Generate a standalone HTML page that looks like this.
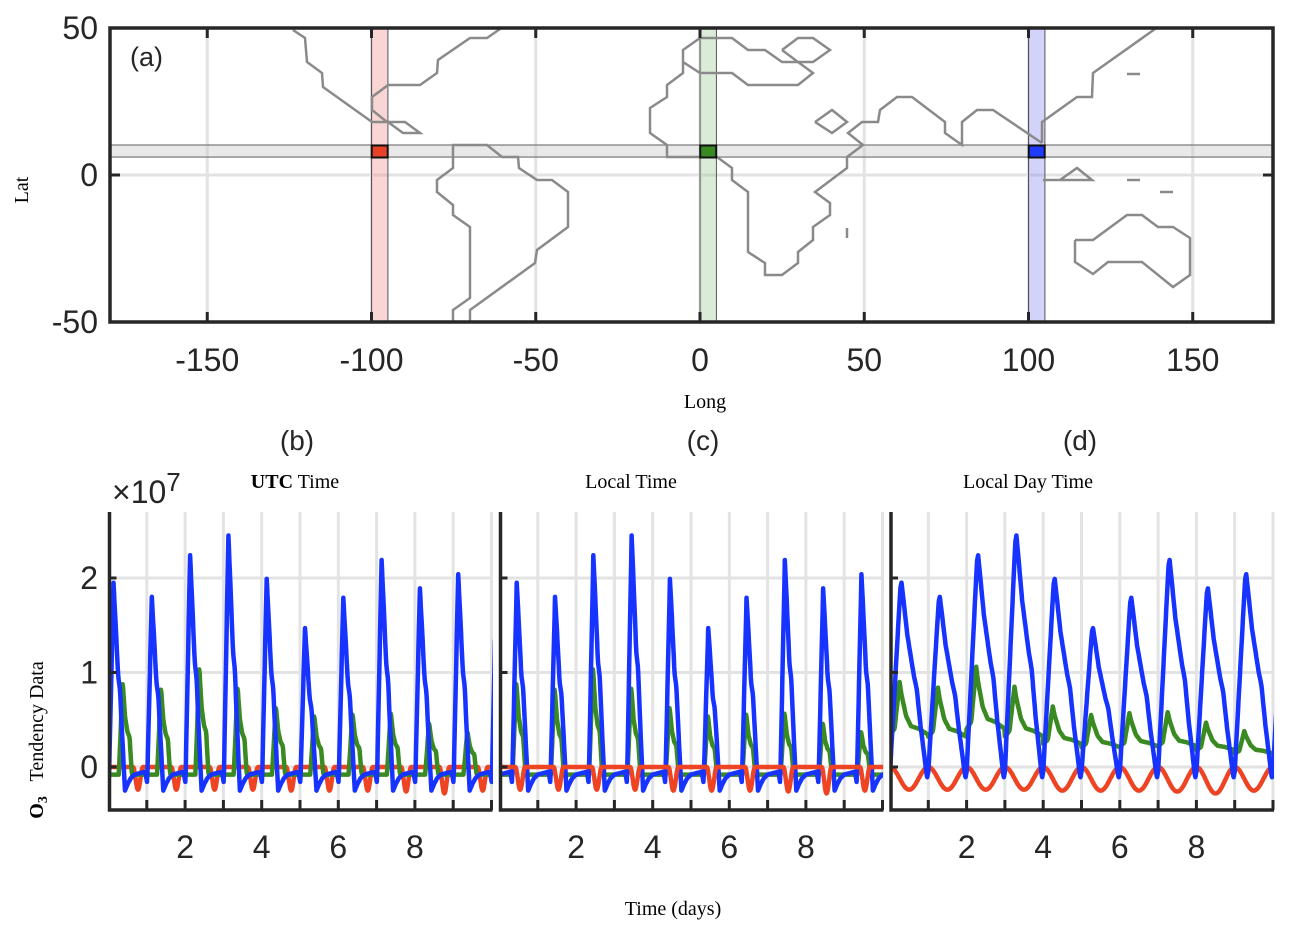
<!DOCTYPE html>
<html><head><meta charset="utf-8"><style>
html,body{margin:0;padding:0;background:#fff;}
svg{display:block;}
text{font-family:"Liberation Sans",Arial,sans-serif;fill:#262626;}
.serif{font-family:"Liberation Serif","Times New Roman",serif;fill:#000;}
</style></head><body>
<svg id="fig" width="1289" height="935" viewBox="0 0 1289 935" xmlns="http://www.w3.org/2000/svg">
<defs>
<clipPath id="clipA"><rect x="110" y="28" width="1163" height="294"/></clipPath>
<clipPath id="clipB"><rect x="110" y="512" width="383" height="298"/></clipPath>
<clipPath id="clipC"><rect x="500" y="512" width="383" height="298"/></clipPath>
<clipPath id="clipD"><rect x="891" y="512" width="383" height="298"/></clipPath>
</defs>
<g id="panelA"></g>
<g id="panels"></g>
</svg>
<script>
// ---- data ----
const lonTicks = [-150,-100,-50,0,50,100,150];
const latTicks = [-50,0,50];
const siteLons = [-97.5, 2.5, 102.5];
const siteLat = 8;
const siteColors = ['#e8432a','#3a8a22','#1f3bff'];
const bandColors = ['rgba(240,150,150,0.4)','rgba(150,200,140,0.35)','rgba(140,140,240,0.38)'];
const dayTicks = [2,4,6,8];
const yTicks = [0,1,2];
const blueAmp = [1.95,1.80,2.24,2.45,1.99,1.47,1.79,2.19,1.89,2.04];
const greenAmp = [0.90,0.84,1.06,0.85,0.64,0.55,0.57,0.58,0.47,0.38];
const redAmp = [0.24,0.24,0.24,0.24,0.25,0.25,0.25,0.26,0.28,0.25];

const NS='http://www.w3.org/2000/svg';
function mk(parent,tag,attrs){const e=document.createElementNS(NS,tag);for(const k in attrs)e.setAttribute(k,attrs[k]);parent.appendChild(e);return e;}
const A=document.getElementById('panelA');
const P=document.getElementById('panels');
const lx=l=>700+3.285*l, ly=l=>175-2.94*l;

lonTicks.forEach(t=>{const g=mk(A,'line',{x1:lx(t),x2:lx(t),y1:28,y2:322,stroke:'#e3e3e3','stroke-width':3});

});
latTicks.forEach(t=>{const g=mk(A,'line',{x1:110,x2:1273,y1:ly(t),y2:ly(t),stroke:'#e3e3e3','stroke-width':3});

});
const band=mk(A,'rect',{x:110,y:ly(10.2),width:1163,height:ly(6.1)-ly(10.2),fill:'rgba(200,200,200,0.4)',stroke:'#777','stroke-width':1.2});


siteLons.forEach((l,i)=>{
 const r=mk(A,'rect',{x:lx(l-2.5),y:28,width:lx(l+2.5)-lx(l-2.5),height:294,fill:bandColors[i],stroke:'#555','stroke-width':1});
 
 
});
const coasts=[
"293,30 305,38 307,62 322,73 323,87 372,122 387,122",
"387,122 372,110 372,97 388,85 420,85 437,73 438,60 470,38 487,38 500,29",
"388,122 405,122 420,133 403,133 388,122",
"453,322 453,310 470,298 470,227 453,215 453,205 437,192 437,180 453,168 453,145 487,145 502,157 518,157 519,168 537,180 552,180 568,192 568,227 537,250 535,263 470,310 470,322",
"683,62 700,73 732,73 748,85 798,85 813,73 798,62 782,62 765,50 748,50 732,38 700,38 683,50 683,73 667,85 667,97 650,108 650,133 667,145 667,157 717,157 732,168 732,180 748,192 748,252 765,263 765,275 782,275 798,263 798,252 813,240 813,227 830,215 830,203 815,192 847,168 847,157 863,145 848,133 862,122 878,122 880,110 897,97 912,97 945,122 945,133 962,145 962,122 977,110 993,110 1042,143",
"1042,143 1042,122 1077,97 1092,97 1093,73 1155,29",
"782,50 798,38 813,38 830,50 813,62 798,62 782,50",
"815,122 832,110 847,122 832,133 815,122",
"847,228 847,238","1127,74 1140,74","1127,180 1140,180","1160,192 1173,192",
"1043,180 1092,180 1077,168 1060,180",
"1075,240 1093,240 1127,215 1142,215 1158,227 1173,227 1190,238 1190,275 1173,287 1142,262 1108,262 1093,274 1075,262 1075,240"];
coasts.forEach(c=>{const p=mk(A,'polyline',{points:c,fill:'none',stroke:'#8a8a8a','stroke-width':2.5,'clip-path':'url(#clipA)'});

});
siteLons.forEach((l,i)=>{
 const s=mk(A,'rect',{x:lx(l)-8,y:ly(siteLat)-6,width:16,height:12,fill:siteColors[i],stroke:'#111','stroke-width':2});
 
 
});
const box=mk(A,'rect',{x:110,y:28,width:1163,height:294,fill:'none',stroke:'#262626','stroke-width':3.5});


lonTicks.forEach(t=>{
 mk(A,'line',{x1:lx(t),x2:lx(t),y1:28,y2:38,stroke:'#262626','stroke-width':3});
 mk(A,'line',{x1:lx(t),x2:lx(t),y1:312,y2:322,stroke:'#262626','stroke-width':3});
 const tx=mk(A,'text',{x:lx(t),y:371,'font-size':32,'text-anchor':'middle'});tx.textContent=t;
 
 
});
latTicks.forEach(t=>{
 mk(A,'line',{x1:110,x2:120,y1:ly(t),y2:ly(t),stroke:'#262626','stroke-width':3});
 mk(A,'line',{x1:1263,x2:1273,y1:ly(t),y2:ly(t),stroke:'#262626','stroke-width':3});
 const tx=mk(A,'text',{x:98,y:ly(t)+11,'font-size':32,'text-anchor':'end'});tx.textContent=t;
 
 
});
let t=mk(A,'text',{x:130,y:66,'font-size':27});t.textContent='(a)';


t=mk(A,'text',{x:705,y:408,'font-size':20,'text-anchor':'middle',class:'serif'});t.textContent='Long';


t=mk(A,'text',{x:0,y:0,'font-size':20,'text-anchor':'middle',class:'serif',transform:'translate(28,190) rotate(-90)'});t.textContent='Lat';



const yv=v=>767-94.5*v;
function interp(pts,ph,amp){for(let i=1;i<pts.length;i++){if(ph<=pts[i][0]){const a=pts[i-1],b=pts[i];const f=(ph-a[0])/(b[0]-a[0]);const va=a[1]+a[2]*amp,vb=b[1]+b[2]*amp;return va+(vb-va)*f;}}const l=pts[pts.length-1];return l[1]+l[2]*amp;}
const blueC=[[0,-0.08,0],[0.28,-0.05,0],[0.33,-0.17,0],[0.45,0,1],[0.5,0,0.8],[0.57,0,0.5],[0.62,0,0.42],[0.67,0,0.2],[0.75,-0.25,0],[0.82,-0.18,0],[0.9,-0.12,0],[1,-0.08,0]];
const greenC=[[0,-0.08,0],[0.34,-0.08,0],[0.44,0,1],[0.5,0,0.6],[0.56,0,0.42],[0.62,0,0.35],[0.68,-0.08,0],[1,-0.08,0]];
const blueD=[[0,-0.05,0],[0.27,0,0.97],[0.3,0,1],[0.34,0,0.93],[0.45,0,0.72],[0.62,0,0.5],[0.7,0,0.42],[0.8,0,0.22],[0.97,-0.12,0],[1,-0.05,0]];
const greenD=[[0,0,0.38],[0.12,0,0.45],[0.25,0,1],[0.3,0,0.85],[0.42,0,0.6],[0.55,0,0.48],[0.75,0,0.45],[1,0,0.38]];
function redC(ph,R){const c=0.54,w=0.13;const d=ph-c;return Math.abs(d)<w?-R*0.5*(1+Math.cos(Math.PI*d/w)):0;}
function redD(ph,R){return -0.5*R*(1-Math.cos(2*Math.PI*ph));}
function build(fn,amps,shift){const pts=[];for(let k=-1;k<=11;k++){const amp=amps[Math.max(0,Math.min(amps.length-1,k))];for(let s=0;s<80;s++){const ph=s/80;const tt=k+ph+shift;if(tt<-0.05||tt>10.1)continue;pts.push([tt,fn(ph,amp)]);}}return pts;}
const panels=[
 {x0:108.5,title:'UTC Time',bold:true,lab:'(b)',labX:297,titleX:295,clip:'clipB',
  s:[[ (p,a)=>redC(p,a),redAmp,0.23,'#ee4423'],[(p,a)=>interp(greenC,p,a),greenAmp,-0.07,'#3a8a22'],[(p,a)=>interp(blueC,p,a),blueAmp,-0.32,'#1633ff']]},
 {x0:499.5,title:'Local Time',lab:'(c)',labX:703,titleX:631,clip:'clipC',
  s:[[(p,a)=>interp(greenC,p,a),greenAmp,0,'#3a8a22'],[(p,a)=>interp(blueC,p,a),blueAmp,0,'#1633ff'],[(p,a)=>redC(p,a),redAmp,0,'#ee4423']]},
 {x0:890,title:'Local Day Time',lab:'(d)',labX:1080,titleX:1028,clip:'clipD',
  s:[[(p,a)=>redD(p,a),redAmp,0,'#ee4423'],[(p,a)=>interp(greenD,p,a),greenAmp,0,'#3a8a22'],[(p,a)=>interp(blueD,p,a),blueAmp,0,'#1633ff']]}
];
panels.forEach((pn,pi)=>{
 const g=mk(P,'g',{});
 
 
 const xs=d=>pn.x0+38.3*d;
 const left=pn.x0+1, right=pn.x0+384;
 for(let d=1;d<=10;d++){const l=mk(g,'line',{x1:xs(d),x2:xs(d),y1:512,y2:810,stroke:'#e3e3e3','stroke-width':3});
  
  }
 yTicks.forEach(v=>{const l=mk(g,'line',{x1:left,x2:right,y1:yv(v),y2:yv(v),stroke:'#e3e3e3','stroke-width':3});
  
  });
 pn.s.forEach(s=>{
  const pts=build(s[0],s[1],s[2]);
  const line=mk(g,'polyline',{points:pts.map(p=>xs(p[0]).toFixed(1)+','+yv(p[1]).toFixed(1)).join(' '),fill:'none',stroke:s[3],'stroke-width':4.5,'stroke-linejoin':'round','clip-path':'url(#'+pn.clip+')'});
  
  
 });
 const ax=mk(g,'polyline',{points:`${left},512 ${left},810 ${right},810`,fill:'none',stroke:'#262626','stroke-width':3.5});
 
 
 for(let d=1;d<=10;d++)mk(g,'line',{x1:xs(d),x2:xs(d),y1:800,y2:810,stroke:'#262626','stroke-width':3});
 yTicks.forEach(v=>mk(g,'line',{x1:left,x2:left+7,y1:yv(v),y2:yv(v),stroke:'#262626','stroke-width':3}));
 dayTicks.forEach(d=>{const tx=mk(g,'text',{x:xs(d),y:858,'font-size':32,'text-anchor':'middle'});tx.textContent=d;
  
  });
 const lb=mk(g,'text',{x:pn.labX,y:450,'font-size':28,'text-anchor':'middle'});lb.textContent=pn.lab;
 
 
 const tt=mk(g,'text',{x:pn.titleX,y:488,'font-size':20,'text-anchor':'middle',class:'serif'});
 
 
 if(pn.bold){const b=mk(tt,'tspan',{'font-weight':'bold'});b.textContent='UTC';const r=mk(tt,'tspan',{});r.textContent=' Time';}
 else tt.textContent=pn.title;
 if(pi===0){yTicks.forEach(v=>{const tx=mk(g,'text',{x:98,y:yv(v)+11,'font-size':32,'text-anchor':'end'});tx.textContent=v;
   
   });}
});
t=mk(P,'text',{x:112,y:503,'font-size':32});t.innerHTML='×10<tspan font-size="26" dy="-12">7</tspan>';


t=mk(P,'text',{x:0,y:0,'font-size':20,'text-anchor':'middle',class:'serif',transform:'translate(43,740) rotate(-90)'});
t.innerHTML='<tspan font-weight="bold">O</tspan><tspan font-weight="bold" font-size="14" dy="4">3</tspan><tspan dy="-4" xml:space="preserve">   Tendency Data</tspan>';


t=mk(P,'text',{x:673,y:915,'font-size':20,'text-anchor':'middle',class:'serif'});t.textContent='Time (days)';


</script>
</body></html>
